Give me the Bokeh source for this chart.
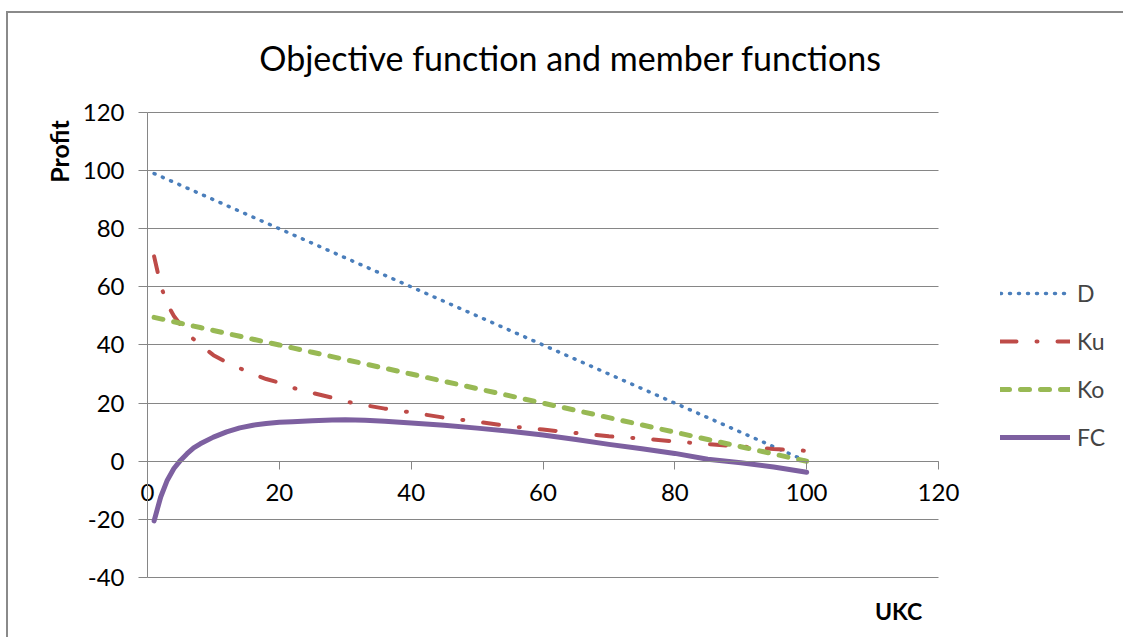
from bokeh.plotting import figure
from bokeh.models import Range1d, FixedTicker, Legend, LegendItem, Label, PrintfTickFormatter
from bokeh.embed import file_html
from bokeh.resources import INLINE
import math

# ---- data ----
ukc = [1, 2, 3, 4, 5, 6, 7, 8, 10, 12, 14, 16, 18, 20, 22, 25, 28, 30, 33, 36,
       40, 45, 50, 55, 60, 65, 70, 75, 80, 85, 90, 95, 100]
d_vals = [99, 98, 97, 96, 95, 94, 93, 92, 90, 88, 86, 84, 82, 80, 78, 75, 72, 70, 67, 64,
          60, 55, 50, 45, 40, 35, 30, 25, 20, 15, 10, 5, 0]
ku_vals = [70.5, 60.5, 54, 50, 47, 44, 42, 40, 36.5, 34, 32, 30, 28.3, 27, 25.3, 23.5, 21.9, 20.6, 19.3, 18.1,
           16.8, 15, 13.6, 12, 10.9, 9.7, 8.6, 7.8, 6.8, 5.9, 5.1, 4.2, 3.6]
ko_vals = [49.5, 49, 48.5, 48, 47.5, 47, 46.5, 46, 45, 44, 43, 42, 41, 40, 39, 37.5, 36, 35, 33.5, 32,
           30, 27.5, 25, 22.5, 20, 17.5, 15, 12.5, 10, 7.5, 5, 2.5, 0]
fc_vals = [-20.5, -12.3, -6.5, -2.5, 0.3, 2.6, 4.6, 6, 8.3, 10.1, 11.5, 12.4, 13, 13.4, 13.6, 13.9, 14.2, 14.3, 14.1, 13.8,
           13.2, 12.4, 11.4, 10.3, 9, 7.5, 5.8, 4.3, 2.7, 0.7, -0.5, -2, -3.8]
series_names = ["D", "Ku", "Ko", "FC"]
x_ticks = [0, 20, 40, 60, 80, 100, 120]
y_ticks = [-40, -20, 0, 20, 40, 60, 80, 100, 120]
title_text = "Objective function and member functions"
y_title = "Profit"
x_title = "UKC"

FONT = "Lato"
GRID = "#868686"

# frame covers the whole canvas; axes are pinned at the data origin
p = figure(width=1117, height=626,
           x_range=Range1d(-21.09, 148.37), y_range=Range1d(-61.33, 154.06),
           output_backend="svg", toolbar_location=None,
           min_border_left=0, min_border_right=0, min_border_top=0, min_border_bottom=0,
           margin=(11, 0, 0, 6),
           styles={"border-left": "2px solid #8a8a8a", "border-top": "2px solid #8a8a8a"})
p.outline_line_color = None
p.background_fill_color = "white"
p.border_fill_color = "white"

p.xaxis.fixed_location = 0
p.yaxis.fixed_location = 0
p.xaxis.bounds = (x_ticks[0], x_ticks[-1])
p.yaxis.bounds = (y_ticks[0], y_ticks[-1])
for ax, ticks in ((p.xaxis, x_ticks), (p.yaxis, y_ticks)):
    ax.ticker = FixedTicker(ticks=ticks)
    ax.formatter = PrintfTickFormatter(format="%d")
    ax.axis_line_color = GRID
    ax.major_tick_line_color = GRID
    ax.major_tick_in = 0
    ax.minor_tick_in = 0
    ax.minor_tick_out = 0
    ax.major_label_text_font = FONT
    ax.major_label_text_font_size = "24px"
    ax.major_label_text_color = "#000000"
p.xaxis.major_tick_out = 8
p.xaxis.major_label_standoff = 15
p.yaxis.major_tick_out = 9
p.yaxis.major_label_standoff = 14

p.xgrid.visible = False
g = p.ygrid[0]
g.grid_line_color = GRID
g.grid_line_width = 1
g.bounds = (y_ticks[0], y_ticks[-1])
if "cross_bounds" in g.properties():
    g.cross_bounds = (x_ticks[0], x_ticks[-1])

# series
r_d = p.line(ukc, d_vals, line_color="#4A7EBB", line_width=3.5, line_dash="1 8", line_cap="round")
r_ku = p.line(ukc, ku_vals, line_color="#BE4B48", line_width=4, line_dash="16 20 1 20", line_cap="round")
r_ko = p.line(ukc, ko_vals, line_color="#98B954", line_width=5, line_dash="9 11", line_cap="round")
r_fc = p.line(ukc, fc_vals, line_color="#7D60A0", line_width=5, line_cap="round", line_join="round")

legend = Legend(items=[LegendItem(label=n, renderers=[r]) for n, r in zip(series_names, [r_d, r_ku, r_ko, r_fc])],
                location=(992, 188), glyph_width=70, glyph_height=24, label_height=24, spacing=20,
                padding=0, margin=0, border_line_color=None, background_fill_alpha=0,
                label_text_font=FONT, label_text_font_size="23px", label_standoff=7)
p.add_layout(legend)

# texts (screen units, measured from the frame's bottom-left corner)
p.add_layout(Label(x=562, y=582, x_units="screen", y_units="screen", text=title_text,
                   text_font=FONT, text_font_size="34px", text_align="center",
                   text_baseline="middle", text_color="#000000"))
p.add_layout(Label(x=50, y=488, x_units="screen", y_units="screen", text=y_title, angle=math.pi / 2,
                   text_font=FONT, text_font_size="25px", text_font_style="bold",
                   text_align="center", text_baseline="middle", text_color="#000000"))
p.add_layout(Label(x=890, y=29, x_units="screen", y_units="screen", text=x_title,
                   text_font=FONT, text_font_size="23px", text_font_style="bold",
                   text_align="center", text_baseline="middle", text_color="#000000"))

open("out.html", "w").write(file_html(p, INLINE))
